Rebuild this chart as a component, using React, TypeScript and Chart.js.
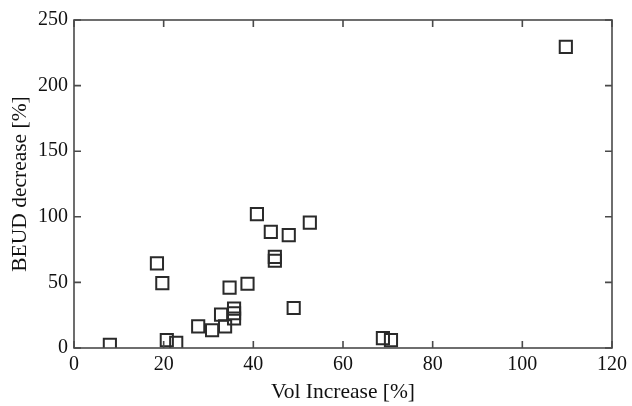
import React, { useEffect, useRef } from "react";
import { Chart, registerables } from "chart.js";

Chart.register(...registerables);

const volIncrease = [8, 18.5, 19.7, 20.7, 22.8, 27.7, 30.8, 33.7, 32.8, 34.7, 35.7, 35.7, 35.7, 38.7, 40.8, 43.9, 44.8, 44.8, 47.9, 52.6, 49, 68.9, 70.7, 109.7];
const beudDecrease = [2.5, 64.5, 49.5, 6, 4, 16.5, 13.5, 16.5, 25.5, 46, 30, 26.5, 22.5, 49, 102, 88.5, 69.5, 66.5, 86, 95.5, 30.5, 7.5, 6, 229.5];

const xTicks = [0, 20, 40, 60, 80, 100, 120];
const yTicks = [0, 50, 100, 150, 200, 250];

const FONT = "'Liberation Serif', 'Times New Roman', serif";
const AXIS_COLOR = "#4a4a4a";

const framePlugin = {
  id: "frame",
  afterDraw(chart: any) {
    const { ctx, chartArea } = chart;
    const xs = chart.scales.x;
    const ys = chart.scales.y;
    const { left, right, top, bottom } = chartArea;
    ctx.save();
    ctx.strokeStyle = AXIS_COLOR;
    ctx.lineWidth = 1.6;
    ctx.strokeRect(left, top, right - left, bottom - top);
    const tl = 7;
    ctx.beginPath();
    xTicks.forEach((v) => {
      const px = xs.getPixelForValue(v);
      ctx.moveTo(px, bottom);
      ctx.lineTo(px, bottom - tl);
      ctx.moveTo(px, top);
      ctx.lineTo(px, top + tl);
    });
    yTicks.forEach((v) => {
      const py = ys.getPixelForValue(v);
      ctx.moveTo(left, py);
      ctx.lineTo(left + tl, py);
      ctx.moveTo(right, py);
      ctx.lineTo(right - tl, py);
    });
    ctx.stroke();
    ctx.restore();
  },
};

export default function App() {
  const ref = useRef<HTMLCanvasElement | null>(null);
  useEffect(() => {
    const data = volIncrease.map((x, i) => ({ x, y: beudDecrease[i] }));
    const chart = new Chart(ref.current as HTMLCanvasElement, {
      type: "scatter",
      data: {
        datasets: [
          {
            data,
            pointStyle: "rect",
            pointRadius: 8.6,
            pointHoverRadius: 8.6,
            borderColor: "#2a2a2a",
            backgroundColor: "rgba(0,0,0,0)",
            borderWidth: 2,
          },
        ],
      },
      options: {
        responsive: false,
        animation: false,
        layout: { padding: { top: 20, right: 18, left: 0, bottom: 0 } },
        plugins: { legend: { display: false }, tooltip: { enabled: false } },
        scales: {
          x: {
            type: "linear",
            min: 0,
            max: 120,
            afterBuildTicks: (s: any) => {
              s.ticks = xTicks.map((v) => ({ value: v }));
            },
            afterFit: (s: any) => {
              s.height = 58;
            },
            grid: { display: false, drawTicks: false },
            border: { display: false },
            ticks: { color: "#111", font: { family: FONT, size: 20 }, padding: 5, maxRotation: 0 },
            title: {
              display: true,
              text: "Vol Increase [%]",
              color: "#111",
              font: { family: FONT, size: 21.5 },
              padding: { top: 0, bottom: 1 },
            },
          },
          y: {
            type: "linear",
            min: 0,
            max: 250,
            afterBuildTicks: (s: any) => {
              s.ticks = yTicks.map((v) => ({ value: v }));
            },
            afterFit: (s: any) => {
              s.width = 74;
            },
            grid: { display: false, drawTicks: false },
            border: { display: false },
            ticks: { color: "#111", font: { family: FONT, size: 20 }, padding: 6 },
            title: {
              display: true,
              text: "BEUD decrease [%]",
              color: "#111",
              font: { family: FONT, size: 21.5 },
              padding: { top: 7, bottom: 0 },
            },
          },
        },
      },
      plugins: [framePlugin],
    });
    return () => chart.destroy();
  }, []);
  return (
    <div style={{ position: "fixed", left: 0, top: 0, width: 632, height: 406, background: "#fff" }}>
      <canvas ref={ref} width={632} height={406} />
    </div>
  );
}
